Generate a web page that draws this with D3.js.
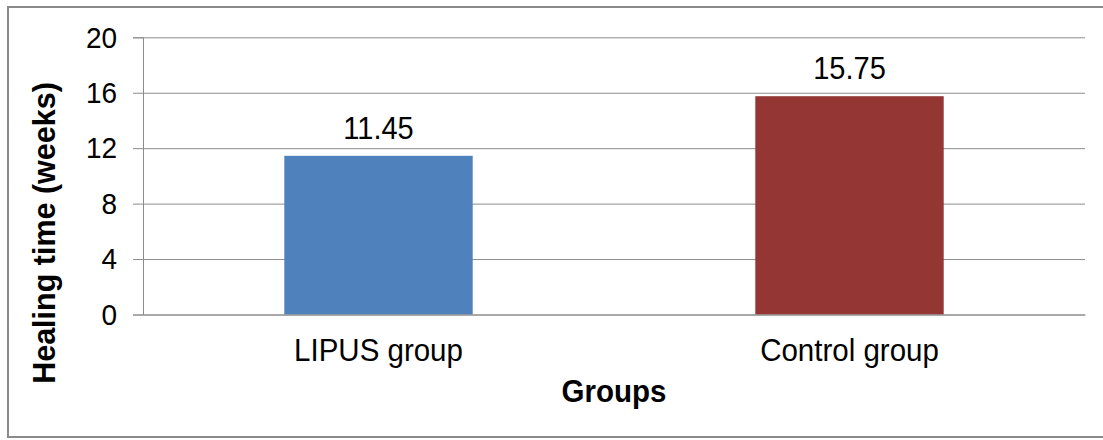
<!DOCTYPE html>
<html>
<head>
<meta charset="utf-8">
<script src="https://cdn.jsdelivr.net/npm/d3@7"></script>
<style>
  html, body { margin: 0; padding: 0; background: #fff; }
  svg { display: block; }
  text { font-family: "Liberation Sans", Arial, sans-serif; fill: #000; }
  /* slightly tall lettering, as in the original rendering */
  .tall { transform-box: fill-box; transform-origin: center; transform: scaleY(1.08); }
  .wide { transform-box: fill-box; transform-origin: center; transform: scaleX(1.06); }
</style>
</head>
<body>
<svg id="chart" width="1103" height="440"></svg>
<script>
// Mean healing time per group
const categories = ["LIPUS group", "Control group"];
const healingWeeks = [11.45, 15.75];
const barColors = ["#4F81BD", "#943634"];
const yTicks = [0, 4, 8, 12, 16, 20];
const yTitle = "Healing time (weeks)";
const xTitle = "Groups";

const svg = d3.select("#chart");

// chart frame
svg.append("rect")
  .attr("x", 8).attr("y", 7)
  .attr("width", 1110).attr("height", 430)
  .attr("fill", "#fff")
  .attr("stroke", "#8a8a8a")
  .attr("stroke-width", 2);

const plot = { left: 143, right: 1085, top: 37.3, bottom: 314.5 };

const x = d3.scaleBand()
  .domain(categories)
  .range([plot.left, plot.right])
  .paddingInner(0.6)
  .paddingOuter(0.3);

const y = d3.scaleLinear()
  .domain([0, 20])
  .range([plot.bottom, plot.top]);

// horizontal gridlines
const grid = svg.append("g")
  .attr("transform", `translate(${plot.left},0)`)
  .call(d3.axisLeft(y).tickValues(yTicks).tickSize(-(plot.right - plot.left)).tickFormat(""));
grid.select(".domain").remove();
grid.selectAll(".tick line").attr("stroke", "#8c8c8c").attr("stroke-width", 1);

// bars
svg.append("g").selectAll("rect")
  .data(categories)
  .join("rect")
  .attr("x", d => x(d))
  .attr("width", x.bandwidth())
  .attr("y", (d, i) => y(healingWeeks[i]))
  .attr("height", (d, i) => y(0) - y(healingWeeks[i]))
  .attr("fill", (d, i) => barColors[i]);

// y axis
const yAxis = svg.append("g")
  .attr("transform", `translate(${plot.left},0)`)
  .call(d3.axisLeft(y).tickValues(yTicks).tickSize(10).tickPadding(16));
yAxis.select(".domain").attr("stroke", "#8c8c8c");
yAxis.selectAll(".tick line").attr("stroke", "#8c8c8c");
yAxis.selectAll(".tick text")
  .attr("class", "tall")
  .style("font-size", "28px")
  .style("font-family", "'Liberation Sans', Arial, sans-serif")
  .attr("fill", "#000");

// x axis baseline and category labels
const xAxis = svg.append("g")
  .attr("transform", `translate(0,${plot.bottom})`)
  .call(d3.axisBottom(x).tickSize(0).tickPadding(14));
xAxis.select(".domain").attr("stroke", "#8c8c8c");
xAxis.selectAll(".tick text")
  .attr("class", "tall")
  .attr("dy", "0.71em")
  .attr("y", 24.5)
  .style("font-size", "29.5px")
  .style("font-family", "'Liberation Sans', Arial, sans-serif")
  .attr("fill", "#000");

// value labels
svg.append("g").selectAll("text")
  .data(categories)
  .join("text")
  .attr("class", "tall")
  .attr("x", d => x(d) + x.bandwidth() / 2)
  .attr("y", (d, i) => y(healingWeeks[i]) - 18)
  .attr("text-anchor", "middle")
  .style("font-size", "29px")
  .text((d, i) => healingWeeks[i].toFixed(2));

// axis titles
svg.append("text")
  .attr("class", "tall")
  .attr("x", (plot.left + plot.right) / 2)
  .attr("y", 401.5)
  .attr("text-anchor", "middle")
  .style("font-size", "29.5px")
  .style("font-weight", "bold")
  .text(xTitle);

svg.append("text")
  .attr("transform", "translate(55,233) rotate(-90)")
  .attr("text-anchor", "middle")
  .style("font-size", "30.5px")
  .style("font-weight", "bold")
  .text(yTitle);
</script>
</body>
</html>
